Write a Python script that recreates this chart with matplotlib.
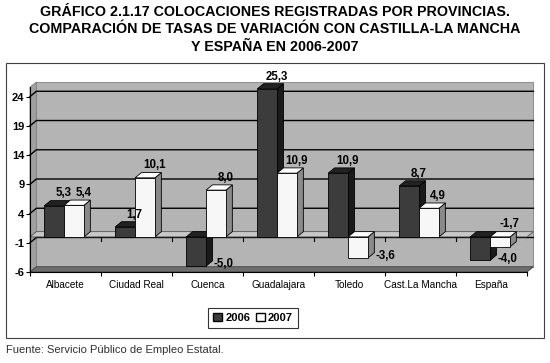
import matplotlib
matplotlib.use('Agg')
import matplotlib.pyplot as plt
from matplotlib.patches import Polygon, Rectangle, Patch

plt.rcParams['font.family'] = ['Liberation Sans', 'DejaVu Sans']

# datos
provincias = ['Albacete', 'Ciudad Real', 'Cuenca', 'Guadalajara', 'Toledo',
              'Cast.La Mancha', 'España']
v2006 = [5.3, 1.7, -5.0, 25.3, 10.9, 8.7, -4.0]
v2007 = [5.4, 10.1, 8.0, 10.9, -3.6, 4.9, -1.7]
yticks = [-6, -1, 4, 9, 14, 19, 24]

titulo = ('GRÁFICO 2.1.17 COLOCACIONES REGISTRADAS POR PROVINCIAS.\n'
          'COMPARACIÓN DE TASAS DE VARIACIÓN CON CASTILLA-LA MANCHA\n'
          'Y ESPAÑA EN 2006-2007')
fuente = 'Fuente: Servicio Público de Empleo Estatal.'

# profundidad del efecto 3D (en unidades de datos)
DX = 0.09
DY = 0.9
YMIN, YTOP = -6, 26.5
N = len(provincias)

fig = plt.figure(figsize=(5.5, 3.63), dpi=100)
ax = fig.add_axes([30 / 550, 1 - 272 / 363, 497 / 550, 193 / 363])
ax.set_xlim(0, N)
ax.set_ylim(YMIN, 27)
ax.patch.set_visible(False)


def poly(pts, fc, ec='black', lw=0.6, z=1):
    ax.add_patch(Polygon(pts, closed=True, facecolor=fc, edgecolor=ec,
                         linewidth=lw, zorder=z, clip_on=False))


# pared del fondo y lateral
poly([(DX, YMIN + DY), (N + DX, YMIN + DY), (N + DX, YTOP), (DX, YTOP)],
     '#b4b4b4', ec='#808080', z=0)
poly([(0, YMIN), (DX, YMIN + DY), (DX, YTOP), (0, YTOP - DY)],
     '#a0a0a0', ec='#808080', z=0)
for t in yticks[1:]:
    ax.plot([0, DX, N + DX], [t, t + DY, t + DY], color='black', lw=1.0,
            zorder=0.5, clip_on=False)
# suelo
poly([(0, YMIN), (N, YMIN), (N + DX, YMIN + DY), (DX, YMIN + DY)],
     '#6e6e6e', ec='#404040', z=0.6)
# plano del cero
poly([(0, 0), (N, 0), (N + DX, DY), (DX, DY)], '#c8c8c8', ec='#505050',
     lw=0.6, z=0.7)
for i in range(N + 1):
    ax.plot([i, i], [0, -0.7], color='black', lw=0.8, zorder=0.8)

colores = {'2006': ('#3c3c3c', '#222222', '#1a1a1a'),
           '2007': ('#f7f7f7', '#ffffff', '#8a8a8a')}
ANCHO = 0.28


def barra(x0, v, c):
    frente, arriba, lado = c
    x1 = x0 + ANCHO
    top = max(v, 0)
    bot = min(v, 0)
    poly([(x1, bot), (x1 + DX, bot + DY), (x1 + DX, top + DY), (x1, top)], lado, z=2)
    poly([(x0, top), (x1, top), (x1 + DX, top + DY), (x0 + DX, top + DY)], arriba, z=2)
    ax.add_patch(Rectangle((x0, bot), ANCHO, top - bot, facecolor=frente,
                           edgecolor='black', linewidth=0.6, zorder=2))


def etiqueta(x0, v):
    txt = f'{v:.1f}'.replace('.', ',')
    if v < -3:
        ax.text(x0 + ANCHO + DX + 0.01, v + 0.3, txt, ha='left', va='center',
                fontsize=8.3, fontweight='bold', zorder=3)
    else:
        ax.text(x0 + ANCHO / 2 + DX + 0.04, max(v, 0) + DY + 0.2, txt,
                ha='center', va='bottom', fontsize=8.3, fontweight='bold', zorder=3)


for i in range(N):
    xa = i + 0.2
    xb = xa + ANCHO
    barra(xa, v2006[i], colores['2006'])
    barra(xb, v2007[i], colores['2007'])
    etiqueta(xa, v2006[i])
    etiqueta(xb, v2007[i])

# ejes
ax.spines['top'].set_visible(False)
ax.spines['right'].set_visible(False)
ax.spines['left'].set_bounds(YMIN, YTOP - DY)
ax.spines['bottom'].set_linewidth(0.8)
ax.set_yticks(yticks)
ax.set_yticklabels([str(t) for t in yticks], fontsize=8, fontweight='bold')
ax.tick_params(axis='y', length=3, pad=1)
ax.set_xticks(range(N + 1))
ax.set_xticklabels([])
ax.tick_params(axis='x', length=3)
for i, p in enumerate(provincias):
    ax.text(i + 0.5, YMIN - 1.3, p, ha='center', va='top', fontsize=7.2)

# titulo, marco, leyenda y fuente
fig.text(0.5, 1 - 5 / 363, titulo, ha='center', va='top', fontsize=10.3,
         fontweight='bold', linespacing=1.3)
fig.add_artist(Rectangle((6 / 550, 1 - 338 / 363), 538 / 550, 275 / 363,
                         transform=fig.transFigure, facecolor='none',
                         edgecolor='#404040', linewidth=0.8))
handles = [Patch(facecolor='#3c3c3c', edgecolor='black', label='2006'),
           Patch(facecolor='white', edgecolor='black', label='2007')]
leg = fig.legend(handles=handles, loc='center', bbox_to_anchor=(253 / 550, 1 - 318 / 363),
                 ncol=2, fancybox=False, edgecolor='black', handlelength=0.8,
                 handleheight=0.8, handletextpad=0.3, columnspacing=0.5,
                 borderpad=0.45, prop={'weight': 'bold', 'size': 8})
leg.get_frame().set_linewidth(0.8)
fig.text(6 / 550, 1 - 350 / 363, fuente, ha='left', va='center', fontsize=8,
         color='#303030')

plt.savefig('out.png', dpi=100)
